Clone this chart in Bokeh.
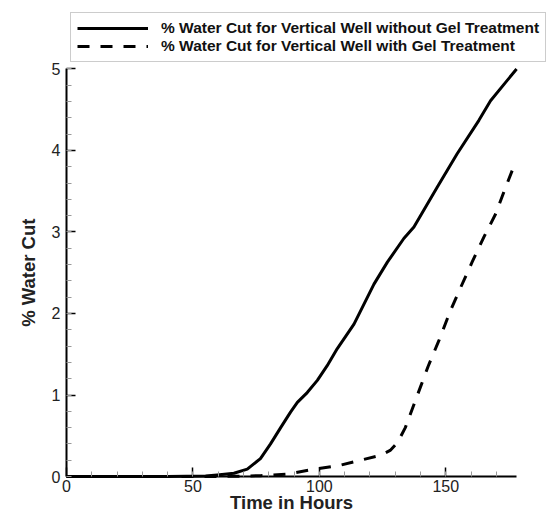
import math
from bokeh.plotting import figure
from bokeh.models import Range1d, SingleIntervalTicker, Legend, LegendItem, Label
from bokeh.embed import file_html
from bokeh.resources import INLINE

# Solid: % water cut without gel treatment
t_without = [0, 20, 40, 55, 59.6, 66.2, 71.5, 76.7, 80.7, 84.7, 88.6, 91.3, 95.2, 99.2, 103.1,
             107.1, 113.7, 121.6, 126.9, 133.4, 137.4, 146.6, 154.5, 163.1, 167.7, 178]
wc_without = [0, 0, 0, 0.005, 0.02, 0.04, 0.09, 0.22, 0.40, 0.60, 0.79, 0.91, 1.03, 1.18, 1.36,
              1.57, 1.87, 2.36, 2.63, 2.92, 3.06, 3.55, 3.96, 4.37, 4.61, 5.0]

# Dashed: % water cut with gel treatment
t_with = [0, 20, 40, 60, 70, 76.7, 87.3, 97.8, 107.1, 116.3, 124.2, 128, 131, 134, 137, 140, 143,
          147.3, 151.9, 155.9, 160.4, 165.1, 169.7, 173.7, 177.6]
wc_with = [0, 0, 0, 0, 0.005, 0.01, 0.03, 0.09, 0.13, 0.20, 0.26, 0.32, 0.42, 0.60, 0.85, 1.10, 1.35,
           1.67, 2.04, 2.32, 2.63, 2.94, 3.22, 3.55, 3.86]

label_without = "% Water Cut for Vertical Well without Gel Treatment"
label_with = "% Water Cut for Vertical Well with Gel Treatment"
x_title = "Time in Hours"
y_title = "% Water Cut"

X_MAX = 178   # end of the time axis
Y_MAX = 5     # end of the water-cut axis

FONT = "Liberation Sans"

# The frame fills the whole canvas so that the legend and axis titles are not clipped;
# the axes are pinned at zero and bounded to the data extents.
p = figure(width=553, height=514, output_backend="svg", toolbar_location=None,
           x_range=Range1d(-26.1, 192.6), y_range=Range1d(-0.466, 5.84))
p.min_border_left = 0
p.min_border_right = 0
p.min_border_top = 0
p.min_border_bottom = 0
p.outline_line_color = None
p.xgrid.visible = False
p.ygrid.visible = False
p.background_fill_color = "white"
p.border_fill_color = "white"

r1 = p.line(t_without, wc_without, line_color="black", line_width=3)
r2 = p.line(t_with, wc_with, line_color="black", line_width=3, line_dash="12 11")

p.xaxis.ticker = SingleIntervalTicker(interval=50, num_minor_ticks=5)
p.yaxis.ticker = SingleIntervalTicker(interval=1, num_minor_ticks=5)
p.xaxis.bounds = (0, X_MAX)
p.yaxis.bounds = (0, Y_MAX)
p.xaxis.fixed_location = 0
p.yaxis.fixed_location = 0

for ax in (p.xaxis[0], p.yaxis[0]):
    ax.axis_line_color = "black"
    ax.axis_line_width = 2
    ax.major_tick_in = 9
    ax.major_tick_out = 0
    ax.major_tick_line_width = 1.5
    ax.major_tick_line_color = "black"
    ax.minor_tick_in = 5
    ax.minor_tick_out = 0
    ax.minor_tick_line_color = "#999999"
    ax.minor_tick_line_width = 1
    ax.major_label_text_font = FONT
    ax.major_label_text_font_size = "16px"
    ax.major_label_text_color = "#222222"

p.xaxis.major_label_standoff = 3
p.yaxis.major_label_standoff = 6

p.add_layout(Label(x=X_MAX / 2, y=-0.315, text=x_title, text_align="center",
                   text_baseline="middle", text_font=FONT, text_font_size="18.5px",
                   text_font_style="bold", text_color="#222222"))
p.add_layout(Label(x=-15.0, y=Y_MAX / 2, text=y_title, angle=math.pi / 2,
                   text_align="center", text_baseline="middle", text_font=FONT,
                   text_font_size="18.5px", text_font_style="bold", text_color="#222222"))

legend = Legend(items=[LegendItem(label=label_without, renderers=[r1]),
                       LegendItem(label=label_with, renderers=[r2])],
                location=(70, 452))
legend.label_text_font = FONT
legend.label_text_font_size = "15.5px"
legend.label_text_font_style = "bold"
legend.label_text_color = "#111111"
legend.glyph_width = 71
legend.glyph_height = 16
legend.label_height = 16
legend.label_standoff = 13
legend.spacing = 0
legend.padding = 6
legend.margin = 0
legend.border_line_color = "#999999"
legend.border_line_width = 1
legend.background_fill_alpha = 1
p.add_layout(legend, "center")

open("out.html", "w").write(file_html(p, INLINE))
